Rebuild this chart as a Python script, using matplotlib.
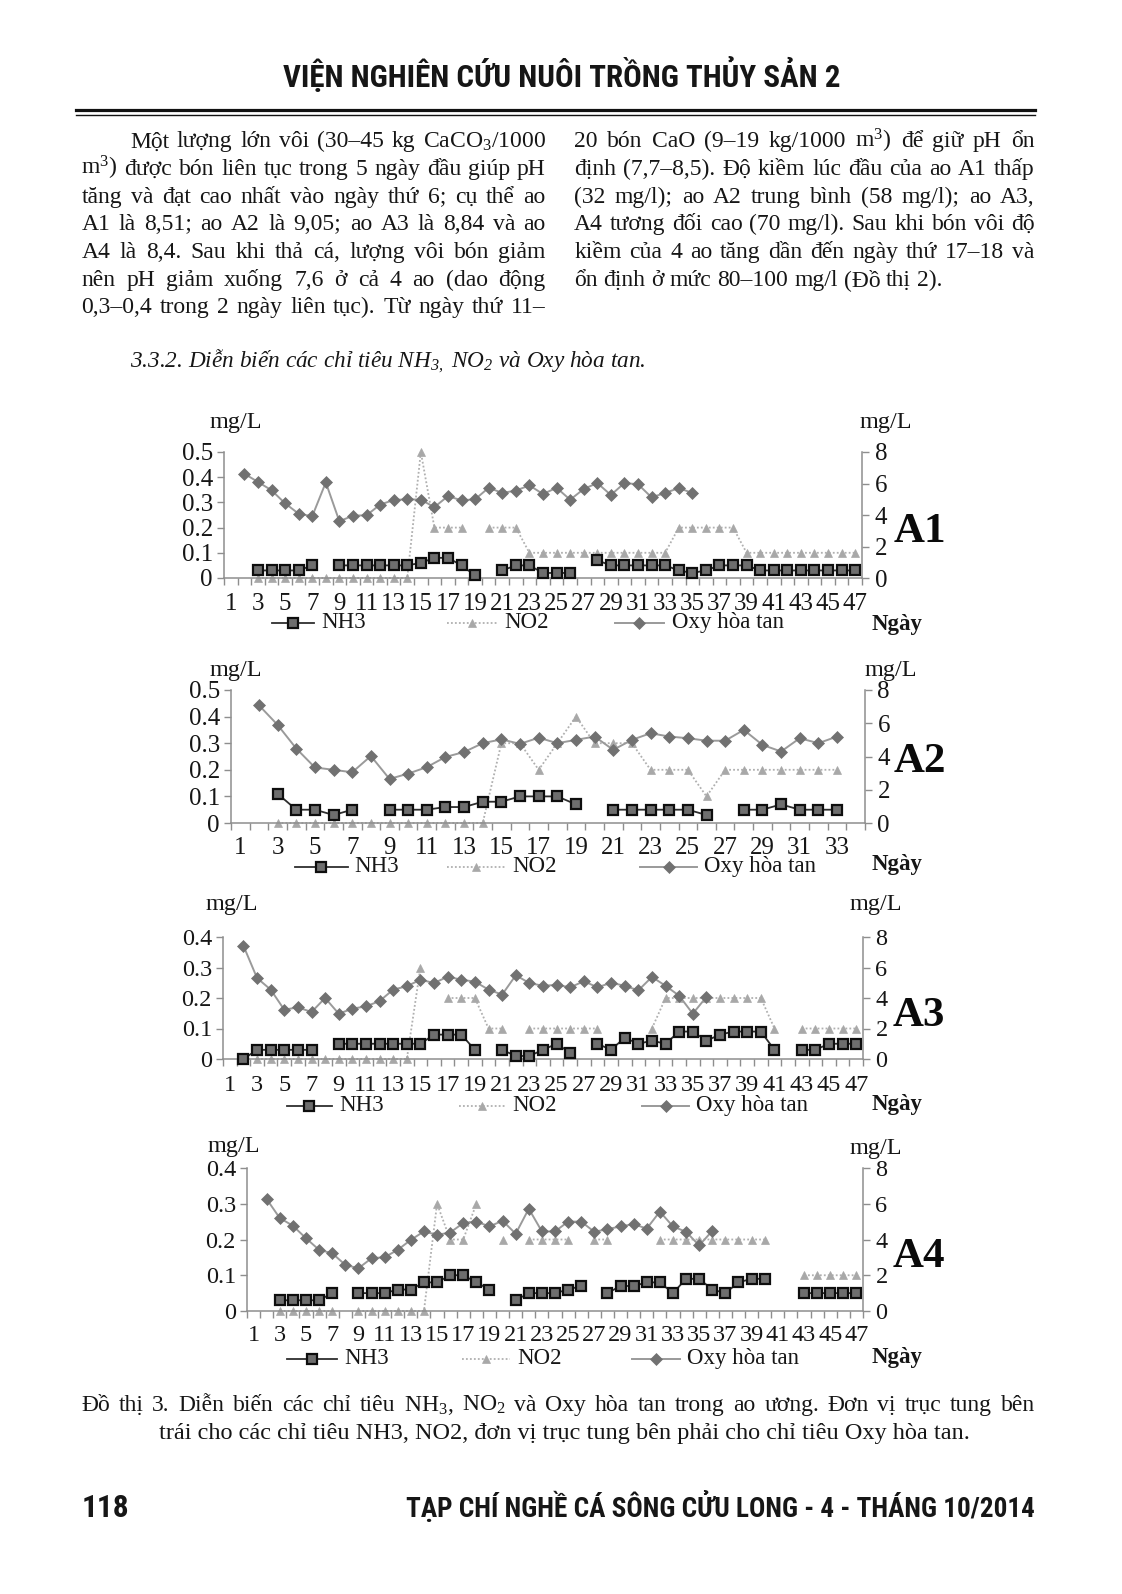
import numpy as np
import matplotlib
matplotlib.use('Agg')
import matplotlib.pyplot as plt
from matplotlib import font_manager
from matplotlib.lines import Line2D

W, H = 1122, 1594
K = W / 1104.0   # reference (shrunk) -> full pixel scale

N = None
# ---------------------------------------------------------------- data
days_A1 = list(range(1, 48))
nh3_A1 = [N, N, .03, .03, .03, .03, .05, N, .05, .05, .05, .05, .05, .05,
          .06, .08, .08, .05, .01, N, .03, .05, .05, .02, .02, .02, N,
          .07, .05, .05, .05, .05, .05, .03, .02, .03, .05, .05, .05,
          .03, .03, .03, .03, .03, .03, .03, .03]
no2_A1 = [N, N, 0, 0, 0, 0, 0, 0, 0, 0, 0, 0, 0, 0,
          .5, .2, .2, .2, N, .2, .2, .2,
          .1, .1, .1, .1, .1, .1, .1, .1, .1, .1, .1,
          .2, .2, .2, .2, .2,
          .1, .1, .1, .1, .1, .1, .1, .1, .1]
oxy_A1 = [N, 6.62, 6.1, 5.57, 4.74, 4.08, 3.92, 6.07, 3.6, 3.96, 3.98, 4.66,
          4.95, 5.0, 4.97, 4.5, 5.2, 4.93, 5.0, 5.73, 5.4, 5.55, 5.88, 5.33,
          5.73, 4.97, 5.65, 6.03, 5.27, 6.03, 5.95, 5.12, 5.4, 5.71, 5.4,
          N, N, N, N, N, N, N, N, N, N, N, N]

days_A2 = list(range(1, 35))
nh3_A2 = [N, N, .11, .05, .05, .03, .05, N, .05, .05, .05, .06, .06, .08,
          .08, .10, .10, .10, .07, N, .05, .05, .05, .05, .05, .03, N,
          .05, .05, .07, .05, .05, .05, N]
no2_A2 = [N, N, 0, 0, 0, 0, 0, 0, 0, 0, 0, 0, 0, 0,
          .3, .3, .2, .3, .4, .3, .3, .3, .2, .2, .2, .1,
          .2, .2, .2, .2, .2, .2, .2, N]
oxy_A2 = [N, 7.08, 5.9, 4.48, 3.34, 3.2, 3.05, 4.03, 2.65, 2.97, 3.36,
          3.97, 4.27, 4.8, 5.03, 4.76, 5.13, 4.8, 5.0, 5.2, 4.4,
          5.0, 5.4, 5.2, 5.1, 4.95, 4.95, 5.6, 4.7, 4.3, 5.1,
          4.8, 5.2, N]

days_A3 = list(range(1, 48))
nh3_A3 = [N, 0.0, .03, .03, .03, .03, .03, N, .05, .05, .05, .05, .05, .05,
          .05, .08, .08, .08, .03, N, .03, .01, .01, .03, .05, .02, N,
          .05, .03, .07, .05, .06, .05, .09, .09, .06, .08, .09, .09, .09,
          .03, N, .03, .03, .05, .05, .05]
no2_A3 = [N, N, 0, 0, 0, 0, 0, 0, 0, 0, 0, 0, 0, 0,
          .3, N, .2, .2, .2, .1, .1, N, .1, .1, .1, .1, .1, .1,
          N, N, N, .1, .2, .2, .2, .2, .2, .2, .2, .2, .1, N,
          .1, .1, .1, .1, .1]
oxy_A3 = [N, 7.43, 5.31, 4.55, 3.23, 3.39, 3.08, 4.0, 2.97, 3.3, 3.45,
          3.8, 4.55, 4.77, 5.2, 4.98, 5.4, 5.2, 5.07, 4.55, 4.22,
          5.49, 4.98, 4.8, 4.86, 4.7, 5.1, 4.7, 5.0, 4.8, 4.5,
          5.38, 4.8, 4.15, 2.97, 4.07,
          N, N, N, N, N, N, N, N, N, N, N]

days_A4 = list(range(1, 48))
nh3_A4 = [N, N, .03, .03, .03, .03, .05, N, .05, .05, .05, .06, .06, .08,
          .08, .10, .10, .08, .06, N, .03, .05, .05, .05, .06, .07, N,
          .05, .07, .07, .08, .08, .05, .09, .09, .06, .05, .08, .09, .09,
          N, N, .05, .05, .05, .05, .05]
no2_A4 = [N, N, 0, 0, 0, 0, 0, N, 0, 0, 0, 0, 0, 0,
          .3, .2, .2, .3, N, .2, N, .2, .2, .2, .2, N, .2, .2,
          N, N, N, .2, .2, .2, .2, .2, .2, .2, .2, .2, N, N,
          .1, .1, .1, .1, .1]
oxy_A4 = [N, 6.26, 5.2, 4.77, 4.07, 3.42, 3.23, 2.58, 2.39, 2.95, 3.01,
          3.42, 3.98, 4.45, 4.26, 4.39, 4.92, 5.0, 4.73, 5.05, 4.32,
          5.72, 4.45, 4.45, 5.0, 5.0, 4.43, 4.58, 4.73, 4.86, 4.61,
          5.56, 4.73, 4.43, 3.67, 4.48,
          N, N, N, N, N, N, N, N, N, N, N]

panel_names = ['A1', 'A2', 'A3', 'A4']
left_ymax = [0.5, 0.5, 0.4, 0.4]
right_ticks = [0, 2, 4, 6, 8]
series_labels = ['NH3', 'NO2', 'Oxy hòa tan']
x_title = 'Ngày'
unit = 'mg/L'

header = 'VIỆN NGHIÊN CỨU NUÔI TRỒNG THỦY SẢN 2'
left_lines = [
    'Một lượng lớn vôi (30–45 kg CaCO$_3$/1000',
    'm$^3$) được bón liên tục trong 5 ngày đầu giúp pH',
    'tăng và đạt cao nhất vào ngày thứ 6; cụ thể ao',
    'A1 là 8,51; ao A2 là 9,05; ao A3 là 8,84 và ao',
    'A4 là 8,4. Sau khi thả cá, lượng vôi bón giảm',
    'nên pH giảm xuống 7,6 ở cả 4 ao (dao động',
    '0,3–0,4 trong 2 ngày liên tục). Từ ngày thứ 11–',
]
right_lines = [
    '20 bón CaO (9–19 kg/1000 m$^3$) để giữ pH ổn',
    'định (7,7–8,5). Độ kiềm lúc đầu của ao A1 thấp',
    '(32 mg/l); ao A2 trung bình (58 mg/l); ao A3,',
    'A4 tương đối cao (70 mg/l). Sau khi bón vôi độ',
    'kiềm của 4 ao tăng dần đến ngày thứ 17–18 và',
    'ổn định ở mức 80–100 mg/l (Đồ thị 2).',
]
subheading = '3.3.2. Diễn biến các chỉ tiêu NH$_{3,}$ NO$_2$ và Oxy hòa tan.'
caption_1 = ('Đồ thị 3. Diễn biến các chỉ tiêu NH$_3$, NO$_2$ và Oxy hòa tan '
             'trong ao ương. Đơn vị trục tung bên')
caption_2 = ('trái cho các chỉ tiêu NH3, NO2, đơn vị trục tung bên phải cho '
             'chỉ tiêu Oxy hòa tan.')
page_no = '118'
journal = 'TẠP CHÍ NGHỀ CÁ SÔNG CỬU LONG - 4 - THÁNG 10/2014'

# ---------------------------------------------------------------- style
available = {f.name for f in font_manager.fontManager.ttflist}
SERIF = ['Liberation Serif', 'DejaVu Serif']
cond_candidates = ['Liberation Sans Narrow', 'Roboto Condensed',
                   'Noto Sans Condensed', 'Open Sans Condensed',
                   'DejaVu Sans Condensed', 'Noto Sans SemiCondensed',
                   'Open Sans SemiCondensed']
NARROW = [c for c in cond_candidates if c in available][:1] + \
    ['Liberation Sans', 'DejaVu Sans']

plt.rcParams['font.family'] = SERIF
plt.rcParams['mathtext.fontset'] = 'custom'
plt.rcParams['mathtext.rm'] = 'Liberation Serif'
plt.rcParams['mathtext.it'] = 'Liberation Serif:italic'
plt.rcParams['mathtext.bf'] = 'Liberation Serif:bold'
plt.rcParams['mathtext.default'] = 'regular'

TXT = '#161616'
AXC = '#8e8e8e'
NH3_STYLE = dict(color='#2e2e2e', lw=1.3, marker='s', ms=6.5, mfc='#6e6e6e',
                 mec='#0e0e0e', mew=1.6)
NO2_STYLE = dict(color='#b0b0b0', lw=1.3, ls=(0, (1, 1.2)), marker='^', ms=5.5,
                 mfc='#a8a8a8', mec='#a8a8a8', mew=0.5)
OXY_STYLE = dict(color='#9a9a9a', lw=1.4, marker='D', ms=5.8, mfc='#717171',
                 mec='#717171', mew=0.5)

fig = plt.figure(figsize=(W / 100, H / 100), dpi=100)
fig.patch.set_facecolor('white')
R = fig.canvas.get_renderer()


def F(x, y):
    return (x / W, 1 - y / H)


def width_of(t):
    return t.get_window_extent(R).width


def set_line(line, x0, x1, base_y, fs, justify=True, **kw):
    words = line.split(' ')
    while True:
        ts = [fig.text(0, 0, w, fontsize=fs, ha='left', va='baseline',
                       color=TXT, **kw) for w in words]
        ws = [width_of(t) for t in ts]
        space = fs * 100 / 72 * 0.25
        if justify and len(words) > 1:
            gap = (x1 - x0 - sum(ws)) / (len(words) - 1)
            if gap < 0.6 * space:
                for t in ts:
                    t.remove()
                fs *= 0.98
                continue
        else:
            gap = space
        break
    x = x0
    for t, w in zip(ts, ws):
        t.set_position(F(x, base_y))
        x += w + gap
    return fs


def fit_text(s, x, y, target_w, fs, ha, **kw):
    t = fig.text(*F(x, y), s, fontsize=fs, ha=ha, va='baseline', color=TXT, **kw)
    w = width_of(t)
    t.set_fontsize(fs * target_w / w)
    return t


# ---------------------------------------------------------------- page text
fit_text(header, 553 * K, 86 * K, (828 - 278) * K, 17, 'center',
         family=NARROW, weight='bold')
fig.add_artist(Line2D([76 / W, 1035 / W], [1 - 110 / H, 1 - 110 / H],
                      color='#111111', lw=2.3, transform=fig.transFigure))
fig.add_artist(Line2D([76 / W, 1035 / W], [1 - 114.5 / H, 1 - 114.5 / H],
                      color='#111111', lw=1.0, transform=fig.transFigure))

BODY_FS = 17
base0 = 145 * K
step = 27.2 * K
for i, ln in enumerate(left_lines):
    x0 = 128 * K if i == 0 else 80 * K
    set_line(ln, x0, 537 * K, base0 + i * step, BODY_FS)
for i, ln in enumerate(right_lines):
    set_line(ln, 565 * K, 1018 * K, base0 + i * step, BODY_FS,
             justify=(i < len(right_lines) - 1))

fit_text(subheading, 128 * K, 361 * K, (637 - 128) * K, 16, 'left',
         style='italic')

cap_fs = set_line(caption_1, 80 * K, 1018 * K, 1388 * K, BODY_FS)
cap2 = fit_text(caption_2, 555 * K, 1416 * K, (963 - 147) * K, 16, 'center')
cap2.set_fontsize(min(cap2.get_fontsize(), cap_fs * 1.03))

fit_text(page_no, 80 * K, 1493 * K, 47 * K, 17, 'left', family=NARROW,
         weight='bold')
fit_text(journal, 1018 * K, 1493 * K, (1018 - 398) * K, 17, 'right',
         family=NARROW, weight='bold')

# ---------------------------------------------------------------- panels
panel_rects = [(224, 452, 862, 578), (231, 690, 865, 823),
               (223, 937, 863, 1059), (247, 1168, 863, 1311)]
unit_left = [(232, 416), (232, 660), (228, 890), (230, 1128)]
unit_right = [(872, 416), (877, 660), (862, 890), (862, 1130)]
xtitle_pos = [(883, 614), (883, 851), (883, 1087), (883, 1336)]
label_pos = [(905, 523), (905, 750), (904, 1000), (904, 1237)]
legend_y = [613, 853, 1088, 1337]
legend_x = [((268, 309, 316), (440, 489, 496), (605, 653, 661)),
            ((290, 342, 349), (440, 497, 504), (630, 686, 693)),
            ((282, 327, 334), (452, 497, 504), (632, 678, 685)),
            ((282, 332, 339), (455, 502, 509), (622, 669, 676))]
tick_fs = [18, 18, 17.5, 17.5]
xpad = [11, 10, 11.5, 10]

data = [(days_A1, nh3_A1, no2_A1, oxy_A1),
        (days_A2, nh3_A2, no2_A2, oxy_A2),
        (days_A3, nh3_A3, no2_A3, oxy_A3),
        (days_A4, nh3_A4, no2_A4, oxy_A4)]

for p in range(4):
    days, nh3, no2, oxy = data[p]
    days = np.array(days)
    nh3 = np.array(nh3, dtype=float)
    no2 = np.array(no2, dtype=float)
    oxy = np.array(oxy, dtype=float)
    x0, y0, x1, y1 = panel_rects[p]
    ax = fig.add_axes([x0 / W, 1 - y1 / H, (x1 - x0) / W, (y1 - y0) / H])
    ax2 = ax.twinx()
    n = len(days)
    ax.set_xlim(0.5, n + 0.5)
    ymax = left_ymax[p]
    ax.set_ylim(0, ymax)
    ax2.set_ylim(0, right_ticks[-1])

    ax.plot(days, no2, zorder=2, clip_on=False, **NO2_STYLE)
    ax.plot(days, nh3, zorder=3, clip_on=False, **NH3_STYLE)
    ax2.plot(days, oxy, zorder=3, clip_on=False, **OXY_STYLE)

    for a in (ax, ax2):
        a.set_facecolor('none')
        for s in a.spines.values():
            s.set_visible(False)
    ax.spines['left'].set_visible(True)
    ax.spines['bottom'].set_visible(True)
    ax2.spines['right'].set_visible(True)
    for s in (ax.spines['left'], ax.spines['bottom'], ax2.spines['right']):
        s.set_color(AXC)
        s.set_linewidth(1.1)

    fs = tick_fs[p]
    yt = np.round(np.arange(0, ymax + 1e-9, 0.1), 1)
    ax.set_yticks(yt)
    ax.set_yticklabels(['0' if v == 0 else f'{v:.1f}' for v in yt])
    ax2.set_yticks(right_ticks)
    ax2.set_yticklabels([str(v) for v in right_ticks])

    ax.set_xticks(np.arange(0.5, n + 1, 1.0))
    ax.set_xticklabels([])
    odd = [d for d in days if d % 2 == 1]
    ax.set_xticks(odd, minor=True)
    ax.set_xticklabels([str(d) for d in odd], minor=True)

    ax.tick_params(axis='x', which='major', length=5, width=1, color=AXC,
                   direction='out')
    ax.tick_params(axis='x', which='minor', length=0, pad=xpad[p],
                   labelsize=fs, labelcolor=TXT)
    ax.tick_params(axis='y', length=5, width=1, color=AXC, direction='out',
                   pad=3, labelsize=fs, labelcolor=TXT)
    ax2.tick_params(axis='y', length=5, width=1, color=AXC, direction='out',
                    pad=4, labelsize=fs, labelcolor=TXT)

    ux, uy = unit_left[p]
    fig.text(*F(ux * K, uy * K), unit, fontsize=17.5, ha='center', va='center',
             color=TXT)
    ux, uy = unit_right[p]
    fig.text(*F(ux * K, uy * K), unit, fontsize=17.5, ha='center', va='center',
             color=TXT)
    tx, ty = xtitle_pos[p]
    fig.text(*F(tx * K, ty * K), x_title, fontsize=16.5, weight='bold',
             ha='center', va='center', color=TXT)
    lx, ly = label_pos[p]
    fig.text(*F(lx * K, ly * K), panel_names[p], fontsize=31, weight='bold',
             ha='center', va='center', color='#0a0a0a')

    yy = 1 - legend_y[p] * K / H
    for (hx0, hx1, tx0), st, lab in zip(legend_x[p],
                                        (NH3_STYLE, NO2_STYLE, OXY_STYLE),
                                        series_labels):
        xa, xb = hx0 * K / W, hx1 * K / W
        fig.add_artist(Line2D([xa, (xa + xb) / 2, xb], [yy, yy, yy],
                              transform=fig.transFigure, markevery=[1], **st))
        fig.text(tx0 * K / W, yy, lab, fontsize=16.5, ha='left', va='center',
                 color=TXT)

fig.savefig('out.png', dpi=100, facecolor='white')
